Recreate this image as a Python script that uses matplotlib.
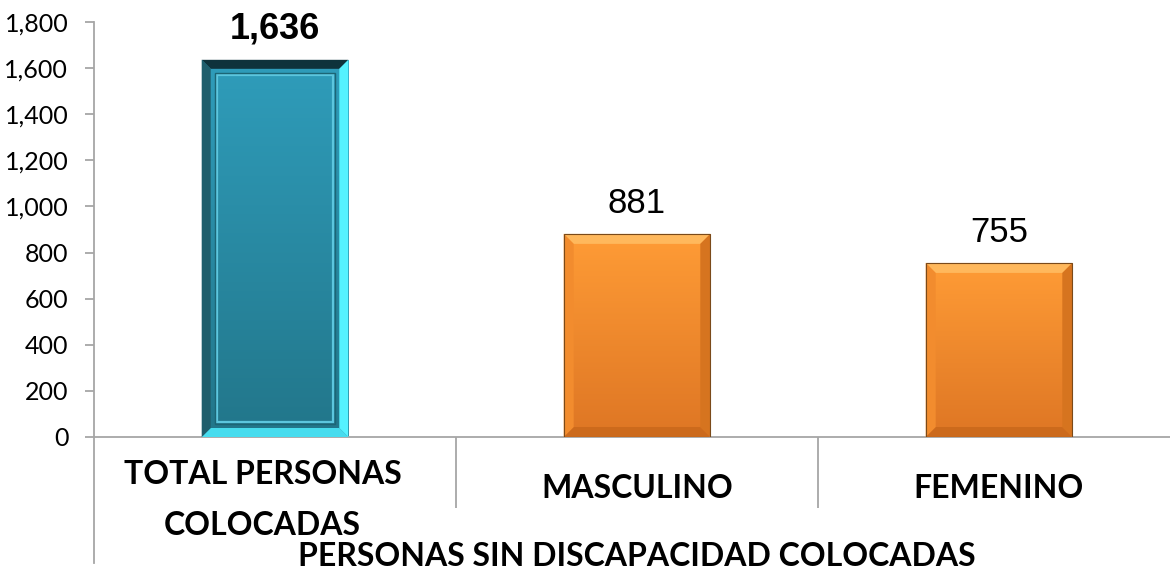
import numpy as np
import matplotlib
matplotlib.use("Agg")
import matplotlib.pyplot as plt
from matplotlib.patches import Polygon, Rectangle
from matplotlib.colors import LinearSegmentedColormap
from matplotlib.ticker import FuncFormatter, FixedLocator

# ── datos ──
categorias = ["TOTAL PERSONAS\nCOLOCADAS", "MASCULINO", "FEMENINO"]
valores = [1636, 881, 755]
grupo = "PERSONAS SIN DISCAPACIDAD COLOCADAS"
y_ticks = [0, 200, 400, 600, 800, 1000, 1200, 1400, 1600, 1800]

W, H, DPI = 1170, 575, 100
GRIS = "#A6A6A6"

fig = plt.figure(figsize=(W / DPI, H / DPI), dpi=DPI)
ax = fig.add_axes([94 / W, 138 / H, 1086 / W, 415 / H])
ax.set_xlim(-0.5, len(valores) - 0.5)
ax.set_ylim(0, 1800)

x = np.arange(len(valores))
bars = ax.bar(x, valores, width=0.405, color="none", edgecolor="none", zorder=2)

# estilos por barra: total en turquesa, resto naranja
teal = dict(top=("#2F9DBB", "#22768A"), b=9,
            bevel=dict(top="#0E323B", left="#1F5E6C", right="#55F2FF", bottom="#47DCEE"),
            frame=15, frame_c="#5CC6DE", edge="none")
naranja = dict(top=("#FF9C36", "#DE7624"), b=10,
               bevel=dict(top="#FFB85C", left="#F28C2E", right="#D6741F", bottom="#CC6A1C"),
               frame=None, frame_c=None, edge="#7A4A1A")

inv = ax.transData.inverted()


def px2data(pts):
    return inv.transform(np.asarray(pts))


for i, bar in enumerate(bars):
    st = teal if i == 0 else naranja
    x0, y0 = bar.get_x(), bar.get_y()
    x1, y1 = x0 + bar.get_width(), y0 + bar.get_height()
    # degradado vertical recortado a la barra
    cmap = LinearSegmentedColormap.from_list("g", [st["top"][1], st["top"][0]])
    grad = np.linspace(0, 1, 256).reshape(-1, 1)
    im = ax.imshow(grad, extent=(x0, x1, y0, y1), origin="lower", cmap=cmap,
                   aspect="auto", zorder=2)
    im.set_clip_path(bar)
    # biseles
    (px0, py0), (px1, py1) = ax.transData.transform([(x0, y0), (x1, y1)])
    b = st["b"]
    polys = {
        "top": [(px0, py1), (px1, py1), (px1 - b, py1 - b), (px0 + b, py1 - b)],
        "bottom": [(px0, py0), (px1, py0), (px1 - b, py0 + b), (px0 + b, py0 + b)],
        "left": [(px0, py0), (px0, py1), (px0 + b, py1 - b), (px0 + b, py0 + b)],
        "right": [(px1, py0), (px1, py1), (px1 - b, py1 - b), (px1 - b, py0 + b)],
    }
    for k, pts in polys.items():
        ax.add_patch(Polygon(px2data(pts), closed=True, facecolor=st["bevel"][k],
                             edgecolor="none", zorder=3))
    if st["frame"]:
        f = st["frame"]
        (fx0, fy0), (fx1, fy1) = px2data([(px0 + f, py0 + f), (px1 - f, py1 - f)])
        ax.add_patch(Rectangle((fx0, fy0), fx1 - fx0, fy1 - fy0, fill=False,
                               edgecolor=st["frame_c"], lw=1.6, zorder=3))
        (gx0, gy0), (gx1, gy1) = px2data([(px0 + f - 2, py0 + f - 2), (px1 - f + 2, py1 - f + 2)])
        ax.add_patch(Rectangle((gx0, gy0), gx1 - gx0, gy1 - gy0, fill=False,
                               edgecolor="#1C6575", lw=1.0, zorder=3))
    if st["edge"] != "none":
        ax.add_patch(Rectangle((x0, y0), x1 - x0, y1 - y0, fill=False,
                               edgecolor=st["edge"], lw=0.8, zorder=4))

# etiquetas de datos
for i, (xi, v) in enumerate(zip(x, valores)):
    ax.annotate(f"{v:,}", (xi, v), xytext=(0, 15), textcoords="offset points",
                ha="center", va="baseline",
                fontsize=26 if i == 0 else 25,
                fontweight="bold" if i == 0 else "normal",
                family="Liberation Sans", color="black")

# ejes
for s in ("top", "right"):
    ax.spines[s].set_visible(False)
for s in ("left", "bottom"):
    ax.spines[s].set_color(GRIS)
    ax.spines[s].set_linewidth(1.3)

ax.yaxis.set_major_locator(FixedLocator(y_ticks))
ax.yaxis.set_major_formatter(FuncFormatter(lambda v, p: f"{v:,.0f}"))
ax.tick_params(axis="y", direction="out", length=6.5, width=1.3, color=GRIS,
               pad=12, labelsize=18)
for lab in ax.get_yticklabels():
    lab.set_family("Lato")

ax.set_xticks([])
ax.xaxis.set_minor_locator(FixedLocator(x[:-1] + 0.5))
ax.tick_params(axis="x", which="minor", direction="out", length=51, width=1.3,
               color=GRIS)
ax.plot([0, 0], [0, -0.304], transform=ax.transAxes, color=GRIS, lw=1.3,
        clip_on=False)

# etiquetas de categoría (dos niveles); Excel corre un poco a la izquierda las envueltas
xt = ax.get_xaxis_transform()
for xi, cat in zip(x, categorias):
    multi = "\n" in cat
    ax.annotate(cat, (xi, -0.152 if multi else -0.123), xycoords=xt,
                xytext=(-9 if multi else 0, 0), textcoords="offset points",
                ha="center", va="center", fontsize=23, fontweight="bold",
                family="Lato", linespacing=1.95, annotation_clip=False)
ax.text(0.5, -0.289, grupo, transform=ax.transAxes, ha="center", va="center",
        fontsize=23, fontweight="bold", family="Lato")

fig.savefig("out.png", dpi=DPI)
